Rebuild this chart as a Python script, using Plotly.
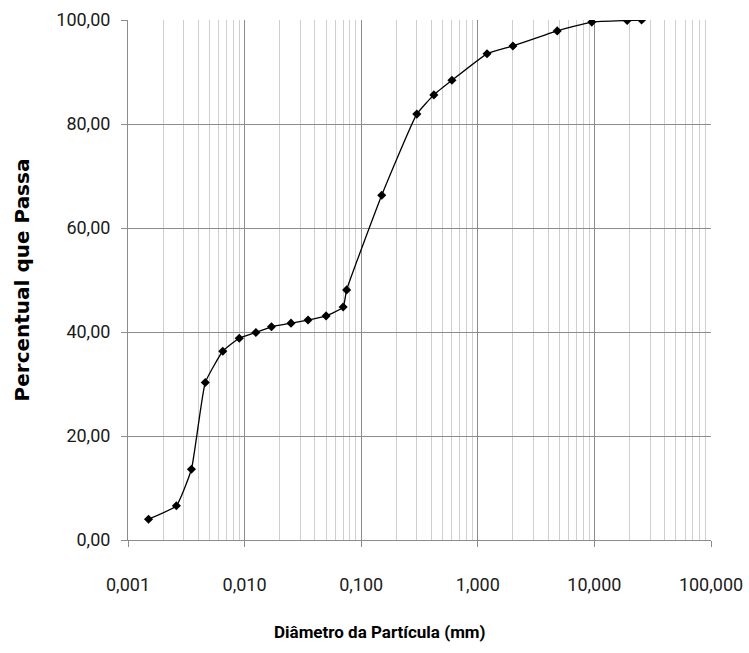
import plotly.graph_objects as go

diametro = [0.0015, 0.0026, 0.0035, 0.0046, 0.0065, 0.009, 0.0125, 0.017, 0.025,
            0.035, 0.05, 0.07, 0.075, 0.15, 0.3, 0.42, 0.6, 1.2, 2.0, 4.8, 9.5,
            19.1, 25.4]
passa = [4.0, 6.6, 13.6, 30.3, 36.3, 38.8, 39.9, 41.0, 41.7, 42.3, 43.1, 44.8,
         48.1, 66.3, 81.9, 85.6, 88.4, 93.5, 95.0, 97.9, 99.6, 99.9, 100.0]

x_tickvals = [0.001, 0.01, 0.1, 1, 10, 100]
x_ticktext = ["0,001", "0,010", "0,100", "1,000", "10,000", "100,000"]
y_tickvals = [0, 20, 40, 60, 80, 100]

minor_vals = [m * 10.0 ** e for e in range(-3, 2) for m in range(2, 10)]

fig = go.Figure()
fig.add_trace(go.Scatter(
    x=diametro, y=passa, mode="lines+markers",
    line=dict(color="black", width=1.3, shape="spline", smoothing=0.4),
    marker=dict(symbol="diamond", size=7, color="black"),
    showlegend=False,
))

tick_font = dict(family="Roboto, sans-serif", size=18, color="#1a1a1a")

fig.update_layout(
    width=749, height=653,
    margin=dict(l=128, r=38, t=20, b=113),
    paper_bgcolor="white", plot_bgcolor="white",
    separators=",.",
    xaxis=dict(
        type="log", range=[-3, 2], automargin=False,
        tickmode="array", tickvals=x_tickvals, ticktext=x_ticktext,
        showgrid=True, gridcolor="#8c8c8c", gridwidth=1,
        minor=dict(tickmode="array", tickvals=minor_vals, showgrid=True,
                   gridcolor="#cfcfcf", gridwidth=1, ticks=""),
        showline=True, linecolor="#8c8c8c", linewidth=1,
        ticks="outside", ticklen=6, tickcolor="#8c8c8c",
        ticklabelstandoff=22,
        tickfont=tick_font, zeroline=False, mirror=False,
    ),
    yaxis=dict(
        range=[0, 100], automargin=False,
        tickmode="array", tickvals=y_tickvals, tickformat=".2f",
        showgrid=True, gridcolor="#8c8c8c", gridwidth=1,
        showline=True, linecolor="#8c8c8c", linewidth=1,
        ticks="outside", ticklen=6, tickcolor="#8c8c8c",
        ticklabelstandoff=7,
        tickfont=tick_font, zeroline=False,
        title=dict(text="Percentual que Passa",
                   font=dict(family="DejaVu Sans, sans-serif", size=20, color="black", weight="bold"),
                   standoff=21),
    ),
    annotations=[dict(
        text="Diâmetro da Partícula (mm)", showarrow=False,
        xref="paper", yref="paper", x=(380 - 128) / 583, y=-0.177,
        xanchor="center", yanchor="middle",
        font=dict(family="Roboto, sans-serif", size=17, color="black", weight="bold"),
    )],
)

fig.write_html("out.html")
